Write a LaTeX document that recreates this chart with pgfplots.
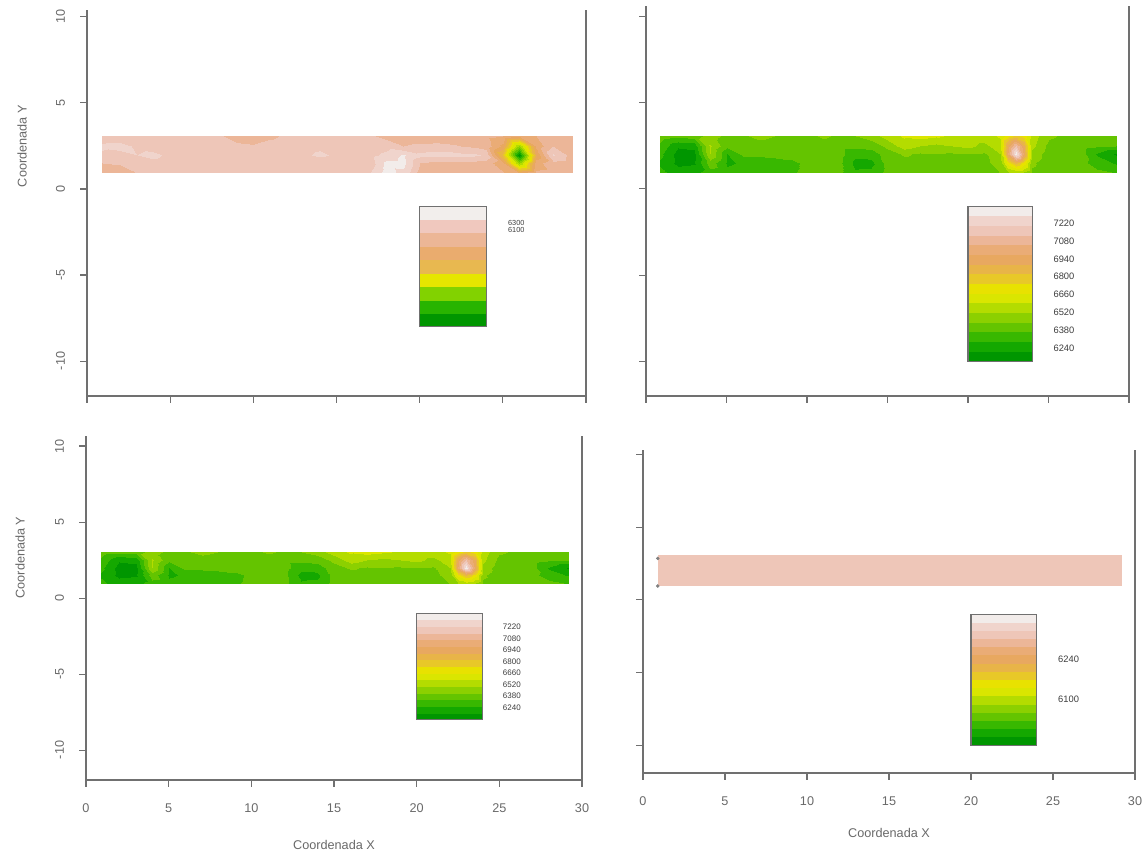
\documentclass[border=0pt]{standalone}
\usepackage{fontspec}
\setmainfont{Liberation Sans}
\usepackage{pgfplots}
\pgfplotsset{compat=1.18}
\definecolor{axisgray}{RGB}{112,112,112}
\definecolor{labelgray}{RGB}{105,105,105}
\definecolor{cbgray}{RGB}{60,60,60}
\pgfplotsset{
  colormap={pone}{rgb255=(0,150,0) rgb255=(40,180,0) rgb255=(130,210,0) rgb255=(230,230,0)
    rgb255=(232,184,80) rgb255=(234,172,110) rgb255=(236,182,150) rgb255=(240,200,190)
    rgb255=(242,238,236)},
  colormap={strip}{rgb255=(0,150,0) rgb255=(20,168,0) rgb255=(56,184,0) rgb255=(100,196,0)
    rgb255=(140,208,0) rgb255=(180,220,0) rgb255=(218,230,0) rgb255=(232,226,0)
    rgb255=(232,200,40) rgb255=(232,180,72) rgb255=(232,168,96) rgb255=(234,172,118)
    rgb255=(236,182,152) rgb255=(238,198,184) rgb255=(240,212,204) rgb255=(242,236,234)},
  panel/.style={
    scale only axis,
    xmin=0, xmax=30,
    axis x line=bottom, axis y line=box,
    axis line style={-, draw=axisgray, line width=1pt},
    ytick pos=left,
    xtick={0,5,10,15,20,25,30},
    ytick={-10,-5,0,5,10},
    tick align=outside,
    major tick length=5pt,
    tick style={axisgray, line width=0.8pt},
    tick label style={font=\fontsize{9.5}{11}\selectfont, text=labelgray},
    yticklabel style={rotate=90, anchor=south},
    yticklabel shift=8pt,
    xticklabel shift=9.5pt,
    label style={font=\fontsize{9.5}{11}\selectfont, text=labelgray},
    colormap name=strip,
    colormap access=piecewise constant,
    point meta min=6170, point meta max=7290,
    clip=false,
  },
}
\begin{document}
\begin{tikzpicture}
\useasboundingbox (0,0) rectangle (861pt,642pt);
% ---------------- Panel 1 (top left)
\begin{axis}[panel, at={(65.25pt,345pt)}, anchor=south west,
  width=374.25pt, height=289.5pt, ymin=-12.03, ymax=10.4,
  xticklabels={}, yticklabels={-10,-5,0,5,10},
  ylabel={Coordenada Y}, ylabel style={at={(rel axis cs:-0.13,0.647)}, anchor=center}]
\addplot[surf, shader=interp, mesh/cols=31, point meta=explicit] coordinates {
(0.9,0.95)[7040] (2,0.95)[7040] (3,0.95)[7080] (4,0.95)[7110] (5,0.95)[7110] (6,0.95)[7110] (7,0.95)[7100] (8,0.95)[7100] (9,0.95)[7100] (10,0.95)[7090] (11,0.95)[7090] (12,0.95)[7090] (13,0.95)[7100] (14,0.95)[7090] (15,0.95)[7090] (16,0.95)[7090] (17,0.95)[7150] (18,0.95)[7250] (19,0.95)[7200] (20,0.95)[7050] (21,0.95)[7040] (22,0.95)[7030] (22.5,0.95)[7030] (23,0.95)[7030] (23.5,0.95)[7030] (24,0.95)[7030] (25,0.95)[7020] (26,0.95)[6950] (27,0.95)[7020] (28,0.95)[7030] (29.2,0.95)[7030]
(0.9,1.5)[7080] (2,1.5)[7090] (3,1.5)[7120] (4,1.5)[7140] (5,1.5)[7130] (6,1.5)[7140] (7,1.5)[7130] (8,1.5)[7120] (9,1.5)[7110] (10,1.5)[7120] (11,1.5)[7130] (12,1.5)[7120] (13,1.5)[7110] (14,1.5)[7120] (15,1.5)[7110] (16,1.5)[7100] (17,1.5)[7110] (18,1.5)[7240] (19,1.5)[7250] (20,1.5)[7080] (21,1.5)[7060] (22,1.5)[7060] (22.5,1.5)[7060] (23,1.5)[7060] (23.5,1.5)[7050] (24,1.5)[7050] (25,1.5)[6950] (26,1.5)[6500] (27,1.5)[6980] (28,1.5)[7060] (29.2,1.5)[7030]
(0.9,2.0)[7140] (2,2.0)[7130] (3,2.0)[7150] (4,2.0)[7160] (5,2.0)[7140] (6,2.0)[7150] (7,2.0)[7140] (8,2.0)[7150] (9,2.0)[7140] (10,2.0)[7150] (11,2.0)[7140] (12,2.0)[7150] (13,2.0)[7140] (14,2.0)[7160] (15,2.0)[7140] (16,2.0)[7140] (17,2.0)[7130] (18,2.0)[7170] (19,2.0)[7230] (20,2.0)[7170] (21,2.0)[7180] (22,2.0)[7180] (22.5,2.0)[7170] (23,2.0)[7170] (23.5,2.0)[7160] (24,2.0)[7130] (25,2.0)[6780] (26,2.0)[6200] (27,2.0)[6880] (28,2.0)[7160] (29.2,2.0)[7040]
(0.9,2.5)[7160] (2,2.5)[7170] (3,2.5)[7140] (4,2.5)[7130] (5,2.5)[7140] (6,2.5)[7140] (7,2.5)[7130] (8,2.5)[7110] (9,2.5)[7100] (10,2.5)[7090] (11,2.5)[7120] (12,2.5)[7130] (13,2.5)[7130] (14,2.5)[7140] (15,2.5)[7130] (16,2.5)[7120] (17,2.5)[7100] (18,2.5)[7120] (19,2.5)[7080] (20,2.5)[7100] (21,2.5)[7100] (22,2.5)[7090] (22.5,2.5)[7080] (23,2.5)[7070] (23.5,2.5)[7060] (24,2.5)[7050] (25,2.5)[6920] (26,2.5)[6500] (27,2.5)[6960] (28,2.5)[7080] (29.2,2.5)[7030]
(0.9,3.05)[7120] (2,3.05)[7110] (3,3.05)[7130] (4,3.05)[7120] (5,3.05)[7110] (6,3.05)[7110] (7,3.05)[7100] (8,3.05)[7090] (9,3.05)[7040] (10,3.05)[7030] (11,3.05)[7060] (12,3.05)[7100] (13,3.05)[7100] (14,3.05)[7110] (15,3.05)[7100] (16,3.05)[7100] (17,3.05)[7090] (18,3.05)[7060] (19,3.05)[7030] (20,3.05)[7030] (21,3.05)[7040] (22,3.05)[7040] (22.5,3.05)[7040] (23,3.05)[7040] (23.5,3.05)[7030] (24,3.05)[7030] (25,3.05)[7010] (26,3.05)[6960] (27,3.05)[7010] (28,3.05)[7030] (29.2,3.05)[7020]
};
\addplot[surf, shader=interp, mesh/cols=2, point meta=explicit, colormap name=pone] coordinates {
(20,-8)[6170] (24,-8)[6170]
(20,-1)[7290] (24,-1)[7290]
};
\addplot[draw=axisgray, line width=0.8pt, mark=none] coordinates {(20,-1) (24,-1) (24,-8) (20,-8) (20,-1)};
\node[anchor=west, font=\fontsize{5.5}{6}\selectfont, text=cbgray, inner sep=0pt] at (axis cs:25.3,-2.0) {6300};
\node[anchor=west, font=\fontsize{5.5}{6}\selectfont, text=cbgray, inner sep=0pt] at (axis cs:25.3,-2.4) {6100};
\end{axis}
% ---------------- Panel 2 (top right)
\begin{axis}[panel, at={(484.5pt,345pt)}, anchor=south west,
  width=362.25pt, height=292.5pt, ymin=-12.0, ymax=10.6,
  xticklabels={}, yticklabels={}]
\addplot[surf, shader=interp, mesh/cols=31, point meta=explicit] coordinates {
(0.9,0.95)[6330] (2,0.95)[6280] (3,0.95)[6290] (4,0.95)[6350] (5,0.95)[6330] (6,0.95)[6340] (7,0.95)[6340] (8,0.95)[6350] (9,0.95)[6370] (10,0.95)[6400] (11,0.95)[6410] (12,0.95)[6400] (13,0.95)[6320] (14,0.95)[6330] (15,0.95)[6410] (16,0.95)[6420] (17,0.95)[6430] (18,0.95)[6420] (19,0.95)[6430] (20,0.95)[6430] (21,0.95)[6430] (22,0.95)[6450] (22.5,0.95)[6500] (23,0.95)[6530] (23.5,0.95)[6500] (24,0.95)[6440] (25,0.95)[6420] (26,0.95)[6410] (27,0.95)[6410] (28,0.95)[6400] (29.2,0.95)[6380]
(0.9,1.5)[6300] (2,1.5)[6220] (3,1.5)[6230] (4,1.5)[6420] (5,1.5)[6300] (6,1.5)[6320] (7,1.5)[6330] (8,1.5)[6340] (9,1.5)[6360] (10,1.5)[6400] (11,1.5)[6410] (12,1.5)[6400] (13,1.5)[6290] (14,1.5)[6290] (15,1.5)[6410] (16,1.5)[6420] (17,1.5)[6420] (18,1.5)[6410] (19,1.5)[6420] (20,1.5)[6420] (21,1.5)[6430] (22,1.5)[6480] (22.5,1.5)[6700] (23,1.5)[6820] (23.5,1.5)[6700] (24,1.5)[6460] (25,1.5)[6410] (26,1.5)[6400] (27,1.5)[6400] (28,1.5)[6350] (29.2,1.5)[6300]
(0.9,2.0)[6330] (2,2.0)[6210] (3,2.0)[6220] (4,2.0)[6520] (5,2.0)[6310] (6,2.0)[6400] (7,2.0)[6400] (8,2.0)[6410] (9,2.0)[6410] (10,2.0)[6410] (11,2.0)[6420] (12,2.0)[6410] (13,2.0)[6330] (14,2.0)[6340] (15,2.0)[6420] (16,2.0)[6460] (17,2.0)[6440] (18,2.0)[6450] (19,2.0)[6440] (20,2.0)[6450] (21,2.0)[6440] (22,2.0)[6520] (22.5,2.0)[6950] (23,2.0)[7260] (23.5,2.0)[6920] (24,2.0)[6500] (25,2.0)[6410] (26,2.0)[6410] (27,2.0)[6410] (28,2.0)[6300] (29.2,2.0)[6230]
(0.9,2.5)[6360] (2,2.5)[6250] (3,2.5)[6260] (4,2.5)[6530] (5,2.5)[6400] (6,2.5)[6410] (7,2.5)[6420] (8,2.5)[6410] (9,2.5)[6410] (10,2.5)[6410] (11,2.5)[6420] (12,2.5)[6410] (13,2.5)[6400] (14,2.5)[6410] (15,2.5)[6470] (16,2.5)[6560] (17,2.5)[6520] (18,2.5)[6500] (19,2.5)[6520] (20,2.5)[6540] (21,2.5)[6500] (22,2.5)[6560] (22.5,2.5)[6900] (23,2.5)[7100] (23.5,2.5)[6880] (24,2.5)[6540] (25,2.5)[6430] (26,2.5)[6420] (27,2.5)[6410] (28,2.5)[6390] (29.2,2.5)[6380]
(0.9,3.05)[6420] (2,3.05)[6400] (3,3.05)[6420] (4,3.05)[6480] (5,3.05)[6430] (6,3.05)[6440] (7,3.05)[6470] (8,3.05)[6450] (9,3.05)[6440] (10,3.05)[6430] (11,3.05)[6460] (12,3.05)[6440] (13,3.05)[6450] (14,3.05)[6480] (15,3.05)[6560] (16,3.05)[6600] (17,3.05)[6620] (18,3.05)[6600] (19,3.05)[6580] (20,3.05)[6560] (21,3.05)[6560] (22,3.05)[6600] (22.5,3.05)[6700] (23,3.05)[6760] (23.5,3.05)[6700] (24,3.05)[6560] (25,3.05)[6460] (26,3.05)[6440] (27,3.05)[6450] (28,3.05)[6430] (29.2,3.05)[6400]
};
\addplot[surf, shader=interp, mesh/cols=2, point meta=explicit] coordinates {
(20,-10)[6170] (24,-10)[6170]
(20,-1)[7290] (24,-1)[7290]
};
\addplot[draw=axisgray, line width=0.8pt, mark=none] coordinates {(20,-1) (24,-1) (24,-10) (20,-10) (20,-1)};
\foreach \v/\yy in {7220/-2.0, 7080/-3.03, 6940/-4.06, 6800/-5.09, 6660/-6.12, 6520/-7.15, 6380/-8.18, 6240/-9.21}{
  \edef\tmp{\noexpand\node[anchor=west, font=\noexpand\fontsize{7}{8}\noexpand\selectfont, text=cbgray, inner sep=0pt] at (axis cs:25.3,\yy) {\v};}\tmp
}
\end{axis}
% ---------------- Panel 3 (bottom left)
\begin{axis}[panel, at={(64.5pt,57pt)}, anchor=south west,
  width=372pt, height=258pt, ymin=-11.97, ymax=10.66,
  xticklabels={0,5,10,15,20,25,30}, yticklabels={-10,-5,0,5,10},
  ylabel={Coordenada Y}, ylabel style={at={(rel axis cs:-0.133,0.647)}, anchor=center},
  xlabel={Coordenada X}, xlabel style={at={(rel axis cs:0.5,-0.19)}, anchor=center}]
\addplot[surf, shader=interp, mesh/cols=31, point meta=explicit] coordinates {
(0.9,0.95)[6330] (2,0.95)[6280] (3,0.95)[6290] (4,0.95)[6350] (5,0.95)[6330] (6,0.95)[6340] (7,0.95)[6340] (8,0.95)[6350] (9,0.95)[6370] (10,0.95)[6400] (11,0.95)[6410] (12,0.95)[6400] (13,0.95)[6320] (14,0.95)[6330] (15,0.95)[6410] (16,0.95)[6420] (17,0.95)[6430] (18,0.95)[6420] (19,0.95)[6430] (20,0.95)[6430] (21,0.95)[6430] (22,0.95)[6450] (22.5,0.95)[6500] (23,0.95)[6530] (23.5,0.95)[6500] (24,0.95)[6440] (25,0.95)[6420] (26,0.95)[6410] (27,0.95)[6410] (28,0.95)[6400] (29.2,0.95)[6380]
(0.9,1.5)[6300] (2,1.5)[6220] (3,1.5)[6230] (4,1.5)[6420] (5,1.5)[6300] (6,1.5)[6320] (7,1.5)[6330] (8,1.5)[6340] (9,1.5)[6360] (10,1.5)[6400] (11,1.5)[6410] (12,1.5)[6400] (13,1.5)[6290] (14,1.5)[6290] (15,1.5)[6410] (16,1.5)[6420] (17,1.5)[6420] (18,1.5)[6410] (19,1.5)[6420] (20,1.5)[6420] (21,1.5)[6430] (22,1.5)[6480] (22.5,1.5)[6700] (23,1.5)[6820] (23.5,1.5)[6700] (24,1.5)[6460] (25,1.5)[6410] (26,1.5)[6400] (27,1.5)[6400] (28,1.5)[6350] (29.2,1.5)[6300]
(0.9,2.0)[6330] (2,2.0)[6210] (3,2.0)[6220] (4,2.0)[6520] (5,2.0)[6310] (6,2.0)[6400] (7,2.0)[6400] (8,2.0)[6410] (9,2.0)[6410] (10,2.0)[6410] (11,2.0)[6420] (12,2.0)[6410] (13,2.0)[6330] (14,2.0)[6340] (15,2.0)[6420] (16,2.0)[6460] (17,2.0)[6440] (18,2.0)[6450] (19,2.0)[6440] (20,2.0)[6450] (21,2.0)[6440] (22,2.0)[6520] (22.5,2.0)[6950] (23,2.0)[7260] (23.5,2.0)[6920] (24,2.0)[6500] (25,2.0)[6410] (26,2.0)[6410] (27,2.0)[6410] (28,2.0)[6300] (29.2,2.0)[6230]
(0.9,2.5)[6360] (2,2.5)[6250] (3,2.5)[6260] (4,2.5)[6530] (5,2.5)[6400] (6,2.5)[6410] (7,2.5)[6420] (8,2.5)[6410] (9,2.5)[6410] (10,2.5)[6410] (11,2.5)[6420] (12,2.5)[6410] (13,2.5)[6400] (14,2.5)[6410] (15,2.5)[6470] (16,2.5)[6560] (17,2.5)[6520] (18,2.5)[6500] (19,2.5)[6520] (20,2.5)[6540] (21,2.5)[6500] (22,2.5)[6560] (22.5,2.5)[6900] (23,2.5)[7100] (23.5,2.5)[6880] (24,2.5)[6540] (25,2.5)[6430] (26,2.5)[6420] (27,2.5)[6410] (28,2.5)[6390] (29.2,2.5)[6380]
(0.9,3.05)[6420] (2,3.05)[6400] (3,3.05)[6420] (4,3.05)[6480] (5,3.05)[6430] (6,3.05)[6440] (7,3.05)[6470] (8,3.05)[6450] (9,3.05)[6440] (10,3.05)[6430] (11,3.05)[6460] (12,3.05)[6440] (13,3.05)[6450] (14,3.05)[6480] (15,3.05)[6560] (16,3.05)[6600] (17,3.05)[6620] (18,3.05)[6600] (19,3.05)[6580] (20,3.05)[6560] (21,3.05)[6560] (22,3.05)[6600] (22.5,3.05)[6700] (23,3.05)[6760] (23.5,3.05)[6700] (24,3.05)[6560] (25,3.05)[6460] (26,3.05)[6440] (27,3.05)[6450] (28,3.05)[6430] (29.2,3.05)[6400]
};
\addplot[surf, shader=interp, mesh/cols=2, point meta=explicit] coordinates {
(20,-8)[6170] (24,-8)[6170]
(20,-1)[7290] (24,-1)[7290]
};
\addplot[draw=axisgray, line width=0.8pt, mark=none] coordinates {(20,-1) (24,-1) (24,-8) (20,-8) (20,-1)};
\foreach \v/\yy in {7220/-1.9, 7080/-2.66, 6940/-3.42, 6800/-4.18, 6660/-4.94, 6520/-5.70, 6380/-6.46, 6240/-7.22}{
  \edef\tmp{\noexpand\node[anchor=west, font=\noexpand\fontsize{6}{7}\noexpand\selectfont, text=cbgray, inner sep=0pt] at (axis cs:25.2,\yy) {\v};}\tmp
}
\end{axis}
% ---------------- Panel 4 (bottom right)
\begin{axis}[panel, at={(482.25pt,62.25pt)}, anchor=south west,
  width=369pt, height=242.25pt, ymin=-11.9, ymax=10.3,
  xticklabels={0,5,10,15,20,25,30}, yticklabels={},
  xlabel={Coordenada X}, xlabel style={at={(rel axis cs:0.5,-0.185)}, anchor=center}]
\addplot[surf, shader=interp, mesh/cols=2, point meta=explicit] coordinates {
(0.9,0.97)[7120] (29.2,0.97)[7120]
(0.9,3.1)[7120] (29.2,3.1)[7120]
};
\addplot[only marks, mark=*, mark size=1.1pt, color=gray] coordinates {(0.9,2.85) (0.9,0.95)};
\addplot[surf, shader=interp, mesh/cols=2, point meta=explicit] coordinates {
(20,-10)[6170] (24,-10)[6170]
(20,-1)[7290] (24,-1)[7290]
};
\addplot[draw=axisgray, line width=0.8pt, mark=none] coordinates {(20,-1) (24,-1) (24,-10) (20,-10) (20,-1)};
\node[anchor=west, font=\fontsize{7}{8}\selectfont, text=cbgray, inner sep=0pt] at (axis cs:25.3,-4.1) {6240};
\node[anchor=west, font=\fontsize{7}{8}\selectfont, text=cbgray, inner sep=0pt] at (axis cs:25.3,-6.8) {6100};
\end{axis}
\end{tikzpicture}
\end{document}
